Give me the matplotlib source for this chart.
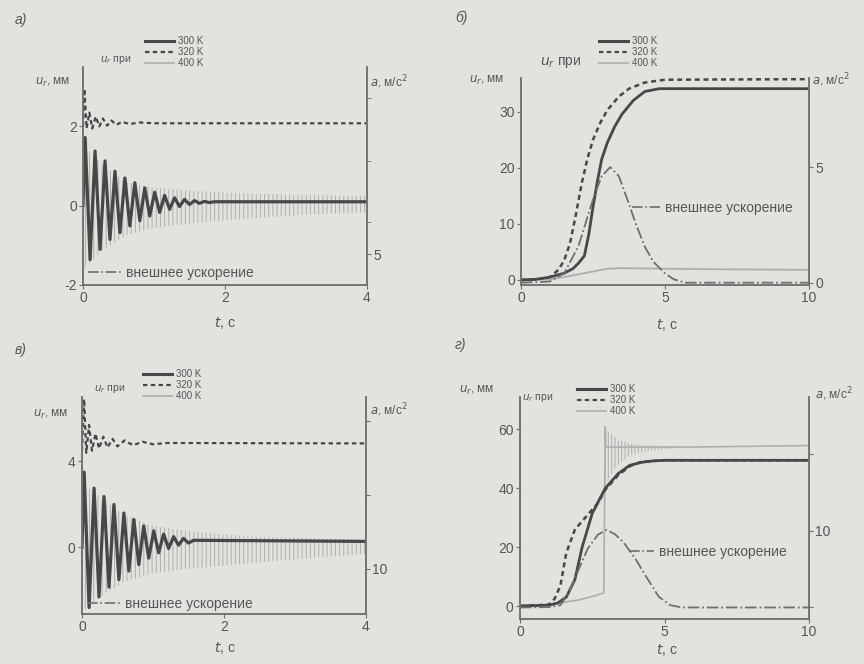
import numpy as np
import matplotlib.pyplot as plt
from matplotlib.lines import Line2D

plt.rcParams['font.family'] = ['Liberation Sans', 'DejaVu Sans']
plt.rcParams['hatch.linewidth'] = 0.7
plt.rcParams['axes.unicode_minus'] = False

bg = '#e2e2df'
dark = '#474747'
mid = '#6e6e6e'
light = '#aeaeae'
txt = '#555555'

# ---- panel a (а) ----
a_t300 = [0.0, 0.03, 0.10, 0.17, 0.24, 0.31, 0.38, 0.45, 0.52, 0.59, 0.66, 0.73, 0.80, 0.87, 0.94,
          1.01, 1.08, 1.15, 1.22, 1.29, 1.36, 1.43, 1.50, 1.57, 1.64, 1.71, 1.78, 1.85, 4.0]
a_u300 = [0, 1.72, -1.36, 1.38, -1.1, 1.13, -0.85, 0.87, -0.68, 0.70, -0.51, 0.58, -0.38, 0.45, -0.26,
          0.34, -0.17, 0.26, -0.09, 0.2, -0.02, 0.16, 0.03, 0.13, 0.06, 0.11, 0.08, 0.1, 0.1]
a_t320 = [0.0, 0.02, 0.05, 0.09, 0.13, 0.18, 0.23, 0.28, 0.34, 0.40, 0.47, 0.55, 0.65, 0.80, 1.0, 4.0]
a_u320 = [2.0, 2.95, 1.95, 2.35, 1.95, 2.25, 2.0, 2.2, 2.02, 2.15, 2.04, 2.12, 2.06, 2.1, 2.08, 2.08]
a_t400 = [0, 0.3, 0.6, 1.0, 1.5, 2.0, 2.5, 3.0, 3.5, 4.0]
a_hi400 = [1.5, 1.0, 0.6, 0.45, 0.38, 0.33, 0.3, 0.28, 0.26, 0.24]
a_lo400 = [-1.6, -1.1, -0.75, -0.55, -0.45, -0.37, -0.3, -0.24, -0.2, -0.17]

# ---- panel б ----
b_t300 = [0, 0.5, 1.0, 1.5, 1.8, 2.0, 2.2, 2.35, 2.5, 2.65, 2.8, 3.0, 3.25, 3.5, 3.9, 4.3, 4.8, 10]
b_u300 = [0, 0.1, 0.5, 1.2, 2.0, 3.0, 4.3, 8, 13, 17.5, 21.5, 24.5, 27.3, 29.5, 32, 33.6, 34.1, 34.1]
b_t320 = [0, 0.5, 1.0, 1.3, 1.5, 1.7, 1.9, 2.1, 2.3, 2.5, 2.75, 3.0, 3.4, 3.75, 4.3, 5.0, 10]
b_u320 = [0, 0.1, 0.5, 1.8, 3.5, 6.5, 11.5, 17, 21.5, 25, 28, 30.3, 32.7, 34.1, 35.2, 35.7, 35.8]
b_t400 = [0, 1.0, 1.6, 2.3, 3.0, 3.5, 5.0, 7.0, 10]
b_u400 = [0, 0.1, 0.6, 1.3, 2.0, 2.1, 2.0, 1.9, 1.8]
b_tacc = [0, 1.0, 1.5, 2.0, 2.5, 2.8, 3.1, 3.4, 3.75, 4.0, 4.3, 4.6, 5.0, 5.3, 5.7, 10]
b_acc = [0, 0.05, 0.4, 1.6, 3.6, 4.6, 5.0, 4.6, 3.4, 2.5, 1.55, 0.9, 0.4, 0.15, 0, 0]

# ---- panel в ----
c_t300 = [0.0, 0.03, 0.10, 0.17, 0.24, 0.31, 0.38, 0.45, 0.52, 0.59, 0.66, 0.73, 0.80, 0.87, 0.94,
          1.01, 1.08, 1.15, 1.22, 1.29, 1.36, 1.43, 1.50, 1.57, 4.0]
c_u300 = [0, 3.5, -2.8, 2.76, -2.3, 2.37, -1.85, 2.0, -1.5, 1.6, -1.1, 1.3, -0.8, 1.0, -0.5,
          0.77, -0.25, 0.62, -0.05, 0.5, 0.1, 0.42, 0.2, 0.33, 0.28]
c_t320 = [0.0, 0.03, 0.06, 0.10, 0.14, 0.19, 0.24, 0.30, 0.36, 0.43, 0.50, 0.60, 0.72, 0.85, 1.0, 1.2, 4.0]
c_u320 = [4.5, 6.9, 4.4, 5.7, 4.5, 5.3, 4.6, 5.15, 4.65, 5.05, 4.7, 4.98, 4.75, 4.92, 4.8, 4.86, 4.84]
c_t400 = [0, 0.3, 0.6, 1.0, 1.5, 2.0, 2.5, 3.0, 3.5, 4.0]
c_hi400 = [3.0, 2.2, 1.5, 1.0, 0.75, 0.6, 0.5, 0.45, 0.4, 0.35]
c_lo400 = [-3.0, -2.2, -1.6, -1.2, -1.0, -0.85, -0.7, -0.55, -0.42, -0.3]

# ---- panel г ----
d_t300 = [0, 1.0, 1.3, 1.6, 1.9, 2.15, 2.5, 2.95, 3.4, 3.8, 4.2, 4.6, 5.0, 10]
d_u300 = [0, 0.3, 1.0, 3, 9, 20, 31.5, 40, 45, 47.8, 48.8, 49.3, 49.5, 49.5]
d_t320 = [0, 1.0, 1.2, 1.4, 1.6, 1.9, 2.3, 2.7, 2.95, 3.4, 3.8, 4.2, 5.0, 10]
d_u320 = [0, 0.5, 2.5, 7, 18, 26, 30.5, 35, 39.5, 44.5, 47.5, 49, 49.5, 49.5]
d_t400 = [0, 1.0, 2.0, 2.6, 2.9, 2.95, 2.97, 6.0, 10]
d_u400 = [0, 0.5, 2.0, 3.5, 4.5, 61, 54, 54, 54.5]
d_tenv = [2.95, 3.0, 3.2, 3.4, 3.8, 4.4, 5.0, 5.5, 6.0]
d_hi400 = [61, 60, 58, 56.5, 55.2, 54.6, 54.3, 54.1, 54]
d_lo400 = [40, 42, 45.5, 48, 51.3, 52.6, 53.3, 53.7, 54]
d_tacc = [0, 1.0, 1.4, 1.7, 2.0, 2.35, 2.7, 3.0, 3.3, 3.6, 4.0, 4.4, 4.8, 5.2, 5.6, 10]
d_acc = [0, 0.05, 0.3, 2.0, 4.7, 7.7, 9.5, 10.1, 9.5, 8.4, 6.3, 3.8, 1.4, 0.3, 0, 0]


def fx(x, y):
    return x / 864, 1 - y / 664


def make_axes(box, xlim, ylim, xt, yt, ylim2, yt2, ylab2):
    ax = fig.add_axes(box)
    ax.set_facecolor('none')
    ax2 = ax.twinx()
    for a in (ax, ax2):
        a.spines['top'].set_visible(False)
        for s in ('left', 'right', 'bottom'):
            a.spines[s].set_color('#707070')
            a.spines[s].set_linewidth(1.1)
        a.tick_params(colors='#707070', labelcolor=txt, labelsize=10, length=3, width=0.8, pad=1.5)
    ax.set_xlim(xlim)
    ax.set_ylim(ylim)
    ax.set_xticks(xt)
    ax.set_yticks(yt)
    ax2.set_ylim(ylim2)
    ax2.set_yticks(yt2)
    ax2.set_yticklabels(ylab2)
    return ax, ax2


def temp_legend(ax, x, y, size=7):
    hs = [Line2D([], [], color=dark, lw=2.2),
          Line2D([], [], color=dark, lw=1.6, ls=(0, (2, 1.5))),
          Line2D([], [], color=light, lw=1.2)]
    leg = ax.legend(hs, ['300 K', '320 K', '400 K'], loc='upper left', bbox_to_anchor=fx(x, y),
                    bbox_transform=fig.transFigure, frameon=False, fontsize=size, handlelength=3.0,
                    handletextpad=0.4, labelspacing=0.12, borderpad=0, borderaxespad=0,
                    labelcolor=txt)
    return leg


def acc_legend(ax, x, y, hl=2.4):
    h = [Line2D([], [], color=mid, lw=1.2, ls='-.')]
    ax.legend(h, ['внешнее ускорение'], loc='center left', bbox_to_anchor=fx(x, y),
              bbox_transform=fig.transFigure, frameon=False, fontsize=10, handlelength=hl,
              handletextpad=0.35, borderpad=0, borderaxespad=0, labelcolor=txt)


def labels(xl, yl, xr, yr, xt, yt, xu, yu, usize):
    fig.text(*fx(xl, yl), r'$u_r$, мм', fontsize=8.5, color=txt, va='center')
    fig.text(*fx(xr, yr), r'$a$, м/с$^2$', fontsize=8.5, color=txt, va='center')
    fig.text(*fx(xt, yt), r'$t$, с', fontsize=10, color=txt, ha='center', va='center')
    fig.text(*fx(xu, yu), r'$u_r$ при', fontsize=usize, color=txt, va='center')


fig = plt.figure(figsize=(8.64, 6.64), dpi=100, facecolor=bg)

# а)
ax, ax2 = make_axes([83 / 864, 0.5708, 0.3287, 0.3283], (0, 4), (-2, 3.5), [0, 2, 4], [-2, 0, 2],
                    (4.3, 9.3), [5], ['5'])
ax2.set_yticks([5.75, 7.15, 8.6], minor=True)
ax2.tick_params(which='minor', length=3, color='#707070')
ax.fill_between(a_t400, a_lo400, a_hi400, facecolor='none', edgecolor=light, hatch='||||', lw=0)
ax.plot(a_t300, a_u300, color=dark, lw=2.3)
ax.plot(a_t320, a_u320, color=dark, lw=1.6, ls=(0, (2, 1.5)))
temp_legend(ax, 145, 36)
acc_legend(ax2, 88, 273)
labels(35, 82, 370, 82, 225, 323, 100, 60, 7.5)

# б)
ax, ax2 = make_axes([521 / 864, 0.5708, 0.3333, 0.3117], (0, 10), (-0.9, 36), [0, 5, 10], [0, 10, 20, 30],
                    (-0.1, 8.85), [0, 5], ['0', '5'])
ax.plot(b_t400, b_u400, color=light, lw=1.3)
ax.plot(b_t300, b_u300, color=dark, lw=2.0)
ax.plot(b_t320, b_u320, color=dark, lw=1.8, ls=(0, (2, 1.5)))
ax2.plot(b_tacc, b_acc, color=mid, lw=1.3, ls='-.')
temp_legend(ax, 599, 36)
acc_legend(ax2, 632, 208, 2.0)
labels(469, 80, 812, 80, 667, 325, 540, 62, 10)

# в)
ax, ax2 = make_axes([82 / 864, 1 - 614 / 664, 0.3287, 217 / 664], (0, 4), (-3.1, 7.0), [0, 2, 4], [0, 4],
                    (6.93, 21.6), [10, 15, 20], ['10', '', ''])
ax.fill_between(c_t400, c_lo400, c_hi400, facecolor='none', edgecolor=light, hatch='||||', lw=0)
ax.plot(c_t300, c_u300, color=dark, lw=2.3)
ax.plot(c_t320, c_u320, color=dark, lw=1.6, ls=(0, (2, 1.5)))
temp_legend(ax, 143, 369)
acc_legend(ax2, 87, 604)
labels(33, 414, 370, 410, 225, 648, 94, 389, 7.5)

# г)
ax, ax2 = make_axes([520 / 864, 1 - 619 / 664, 0.3345, 222 / 664], (0, 10), (-4.4, 71), [0, 5, 10],
                    [0, 20, 40, 60], (-1.5, 27.4), [0, 10, 20], ['', '10', ''])
ax.fill_between(d_tenv, d_lo400, d_hi400, facecolor='none', edgecolor=light, hatch='|||||', lw=0)
ax.plot(d_t400, d_u400, color=light, lw=1.2)
ax.plot(d_t300, d_u300, color=dark, lw=2.0)
ax.plot(d_t320, d_u320, color=dark, lw=1.8, ls=(0, (2, 1.5)))
ax2.plot(d_tacc, d_acc, color=mid, lw=1.3, ls='-.')
temp_legend(ax, 577, 384)
acc_legend(ax2, 629, 552, 1.8)
labels(459, 390, 815, 394, 667, 650, 522, 398, 7.5)

for s, x, y in [('а)', 15, 20), ('б)', 455, 18), ('в)', 15, 350), ('г)', 455, 345)]:
    fig.text(*fx(x, y), s, fontsize=10, style='italic', color=txt, va='center')

fig.savefig('out.png', dpi=100, facecolor=bg)
